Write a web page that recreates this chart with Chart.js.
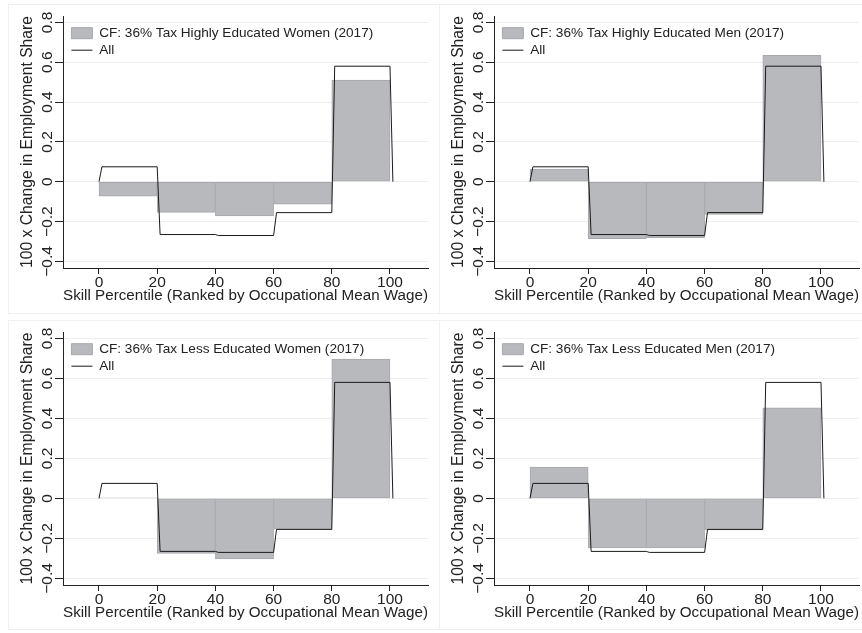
<!DOCTYPE html>
<html>
<head>
<meta charset="utf-8">
<script src="https://cdn.jsdelivr.net/npm/chart.js@4.4.1/dist/chart.umd.min.js"></script>
<style>
   html, body { margin: 0; padding: 0; background: #fff; }
   #wrap { position: relative; width: 862px; height: 633px; }
   .panel { position: absolute; }
   .frame { position: absolute; border: 1px solid #f0f0f0; pointer-events: none; }
</style>
</head>
<body>
<div id="wrap">
   <div class="frame" style="left:8px;top:4px;width:430px;height:308px"></div>
   <div class="frame" style="left:439px;top:4px;width:430px;height:308px"></div>
   <div class="frame" style="left:8px;top:320px;width:430px;height:308px"></div>
   <div class="frame" style="left:439px;top:320px;width:430px;height:308px"></div>
   <canvas class="panel" id="c1" width="431" height="316" style="left:0;top:0"></canvas>
   <canvas class="panel" id="c2" width="431" height="316" style="left:431px;top:0"></canvas>
   <canvas class="panel" id="c3" width="431" height="317" style="left:0;top:316px"></canvas>
   <canvas class="panel" id="c4" width="431" height="317" style="left:431px;top:316px"></canvas>
</div>
<script>
// quintile bins (centre of each 20-point skill bin)
var binCenters = [10, 30, 50, 70, 90];

// "All" step line, same in every panel
var allX = [0, 1, 20, 21, 40, 41, 60, 61, 80, 81, 100, 101];
var allY = [0, 0.075, 0.075, -0.265, -0.265, -0.27, -0.27, -0.155, -0.155, 0.58, 0.58, 0];

// counterfactual bars, one array per panel
var hiWomen = [-0.072, -0.154, -0.172, -0.112, 0.51];
var hiMen   = [0.064, -0.286, -0.281, -0.164, 0.634];
var loWomen = [0.003, -0.275, -0.303, -0.154, 0.696];
var loMen   = [0.157, -0.248, -0.248, -0.157, 0.453];

var panelLabels = [
   'CF: 36% Tax Highly Educated Women (2017)',
   'CF: 36% Tax Highly Educated Men (2017)',
   'CF: 36% Tax Less Educated Women (2017)',
   'CF: 36% Tax Less Educated Men (2017)'
];

var xTitle = 'Skill Percentile (Ranked by Occupational Mean Wage)';
var yTitle = '100 x Change in Employment Share';

var FONT = '"Liberation Sans", Arial, Helvetica, sans-serif';
var INK = '#222222';

Chart.defaults.font.family = FONT;
Chart.defaults.color = INK;

// put the legend in the top-left corner of the plot area
var legendCorner = {
   id: 'legendCorner',
   afterLayout: function(chart) {
      var lg = chart.legend;
      var area = chart.chartArea;
      var w = lg.width, h = lg.height;
      lg.left = area.left + 5;
      lg.top = area.top + 7;
      lg.right = lg.left + w;
      lg.bottom = lg.top + h;
   }
};

function fmtY(v) {
   if (Math.abs(v) < 1e-9) return '0';
   return v.toFixed(1).replace('-', '\u2212');
}

function makePanel(canvasId, label, values) {
   var ctx = document.getElementById(canvasId).getContext('2d');

   return new Chart(ctx, {
      type: 'bar',
      data: {
         datasets: [{
            type: 'bar',
            label: label,
            data: binCenters.map(function(x, i) { return { x: x, y: values[i] }; }),
            backgroundColor: '#b8b9bd',
            borderColor: '#a7a8ac',
            borderWidth: 1,
            borderSkipped: false,
            barPercentage: 1,
            categoryPercentage: 1,
            pointStyle: 'rect',
            order: 2
         }, {
            type: 'line',
            label: 'All',
            data: allX.map(function(x, i) { return { x: x, y: allY[i] }; }),
            borderColor: '#1a1a1a',
            borderWidth: 1,
            pointRadius: 0,
            tension: 0,
            fill: false,
            pointStyle: 'line',
            order: 1
         }]
      },
      options: {
         responsive: false,
         animation: false,
         devicePixelRatio: 1,
         layout: { padding: { top: 16, right: 3, left: 0, bottom: 0 } },
         plugins: {
            tooltip: { enabled: false },
            legend: {
               position: 'chartArea',
               align: 'start',
               labels: {
                  usePointStyle: true,
                  pointStyleWidth: 21,
                  boxHeight: 11,
                  padding: 3.4,
                  color: INK,
                  font: { size: 13.6 },
                  sort: function(a, b) { return a.datasetIndex - b.datasetIndex; }
               }
            }
         },
         scales: {
            x: {
               type: 'linear',
               offset: false,
               min: -12.37,
               max: 113.06,
               ticks: {
                  stepSize: 20,
                  includeBounds: false,
                  maxRotation: 0,
                  padding: -1,
                  color: INK,
                  font: { size: 15.5 }
               },
               grid: { offset: false, drawOnChartArea: false, tickLength: 6, tickColor: INK },
               border: { color: INK, width: 1 },
               title: {
                  display: true,
                  text: xTitle,
                  color: INK,
                  font: { size: 15.2 },
                  padding: { top: 0, bottom: 10.7 }
               },
               afterFit: function(scale) { scale.height = 48; }
            },
            y: {
               min: -0.433,
               max: 0.832,
               ticks: {
                  stepSize: 0.2,
                  includeBounds: false,
                  minRotation: 90,
                  maxRotation: 90,
                  crossAlign: 'center',
                  padding: -8,
                  color: INK,
                  font: { size: 15.5 },
                  callback: function(v) { return fmtY(v); }
               },
               grid: { color: '#eeeeee', tickLength: 8, tickColor: INK },
               border: { color: INK, width: 1 },
               title: {
                  display: true,
                  text: yTitle,
                  color: INK,
                  font: { size: 15.7 },
                  padding: { top: 18.2, bottom: 0 }
               },
               afterFit: function(scale) { scale.width = 63; }
            }
         }
      },
      plugins: [legendCorner]
   });
}

makePanel('c1', panelLabels[0], hiWomen);
makePanel('c2', panelLabels[1], hiMen);
makePanel('c3', panelLabels[2], loWomen);
makePanel('c4', panelLabels[3], loMen);
</script>
</body>
</html>
